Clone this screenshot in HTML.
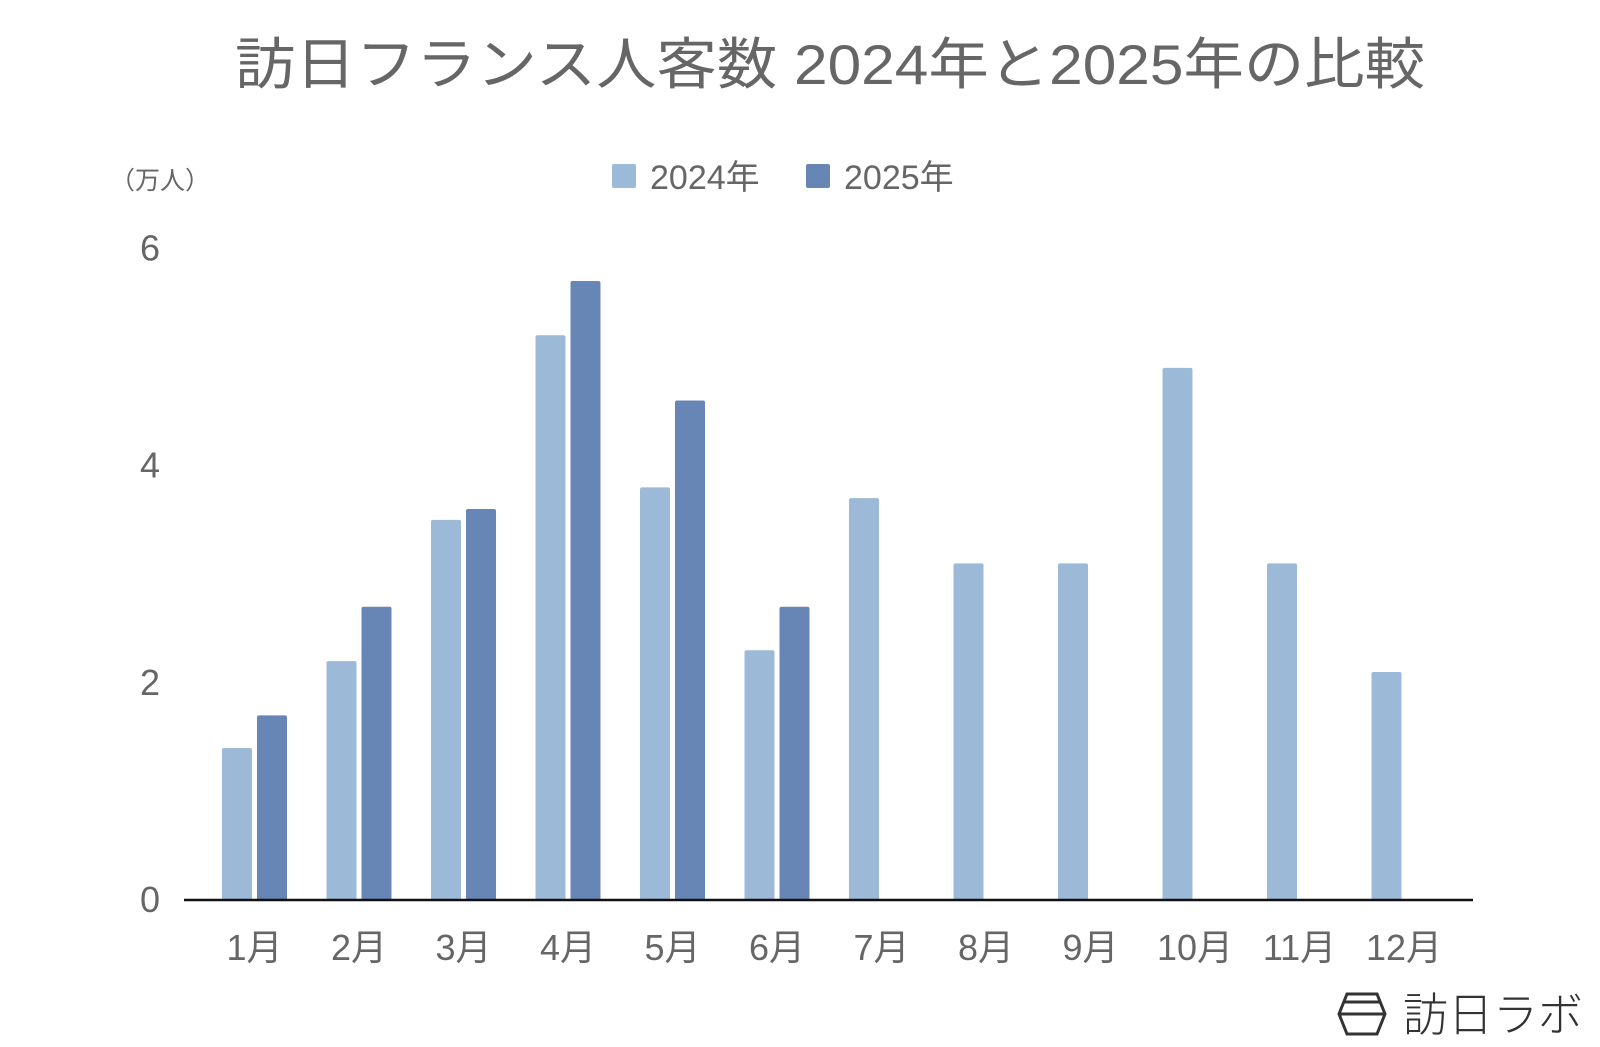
<!DOCTYPE html>
<html><head><meta charset="utf-8"><style>
body{margin:0;background:#fff;}
svg{display:block;font-family:"Liberation Sans","Noto Sans CJK JP",sans-serif;}
</style></head><body>
<svg id="chart" width="1600" height="1047" viewBox="0 0 1600 1047">
<text x="830" y="84" text-anchor="middle" font-size="56" fill="#666" textLength="1190" lengthAdjust="spacingAndGlyphs">訪日フランス人客数 2024年と2025年の比較</text>
<g>
<g><rect x="612" y="164" width="24" height="24" rx="2" fill="#9db9d8"/><text x="650" y="189" font-size="34" fill="#666">2024年</text></g>
<g><rect x="806" y="164" width="24" height="24" rx="2" fill="#6886b5"/><text x="844" y="189" font-size="34" fill="#666">2025年</text></g>
</g>
<text x="110" y="189" font-size="25" fill="#666">（万人）</text>
<g id="yticks"></g>
<g id="bars"></g>
<line x1="184" y1="900" x2="1473" y2="900" stroke="#111" stroke-width="2.5"/>
<g id="xlabels"></g>
<g>
<polygon points="1347,994 1377,994 1385,1014 1377,1034 1347,1034 1339,1014" fill="none" stroke="#333" stroke-width="3"/>
<line x1="1344" y1="1002" x2="1380" y2="1002" stroke="#333" stroke-width="3"/>
<line x1="1339" y1="1014" x2="1385" y2="1014" stroke="#333" stroke-width="3"/>
<text x="1403" y="1031" font-size="46" fill="#333" font-weight="300" textLength="180" lengthAdjust="spacingAndGlyphs">訪日ラボ</text>
</g>
</svg>
<script>
const categories=["1月","2月","3月","4月","5月","6月","7月","8月","9月","10月","11月","12月"];
const values2024=[1.4,2.2,3.5,5.2,3.8,2.3,3.7,3.1,3.1,4.9,3.1,2.1];
const values2025=[1.7,2.7,3.6,5.7,4.6,2.7,null,null,null,null,null,null];
const yTicks=[0,2,4,6];
const NS="http://www.w3.org/2000/svg";
const y0=900, unit=108.6, startX=222, step=104.5, bw=30, gap=5;
function yScale(v){return y0-v*unit;}
function xScale(i){return startX+i*step;}
const yt=document.getElementById('yticks');
yTicks.forEach(t=>{
  const tx=document.createElementNS(NS,'text');
  tx.setAttribute('x',150);tx.setAttribute('y',yScale(t)+12);
  tx.setAttribute('text-anchor','middle');tx.setAttribute('font-size','36');tx.setAttribute('fill','#666');
  tx.textContent=t;
  
  
  yt.appendChild(tx);
});
const bars=document.getElementById('bars');
function bar(x,v,color){
  const r=document.createElementNS(NS,'rect');
  r.setAttribute('x',x);r.setAttribute('y',yScale(v));
  r.setAttribute('width',bw);r.setAttribute('height',y0-yScale(v));
  r.setAttribute('rx',2);r.setAttribute('fill',color);
  return r;
}
const xl=document.getElementById('xlabels');
categories.forEach((c,i)=>{
  const x=xScale(i);
  if(values2024[i]!=null){
    const r=bar(x,values2024[i],'#9db9d8');
    
    
    bars.appendChild(r);
  }
  if(values2025[i]!=null){
    const r=bar(x+bw+gap,values2025[i],'#6886b5');
    
    
    bars.appendChild(r);
  }
  const tx=document.createElementNS(NS,'text');
  tx.setAttribute('x',x+bw+gap/2);tx.setAttribute('y',960);
  tx.setAttribute('text-anchor','middle');tx.setAttribute('font-size','36');tx.setAttribute('fill','#666');
  tx.textContent=c;
  
  
  xl.appendChild(tx);
});
</script>
</body></html>
